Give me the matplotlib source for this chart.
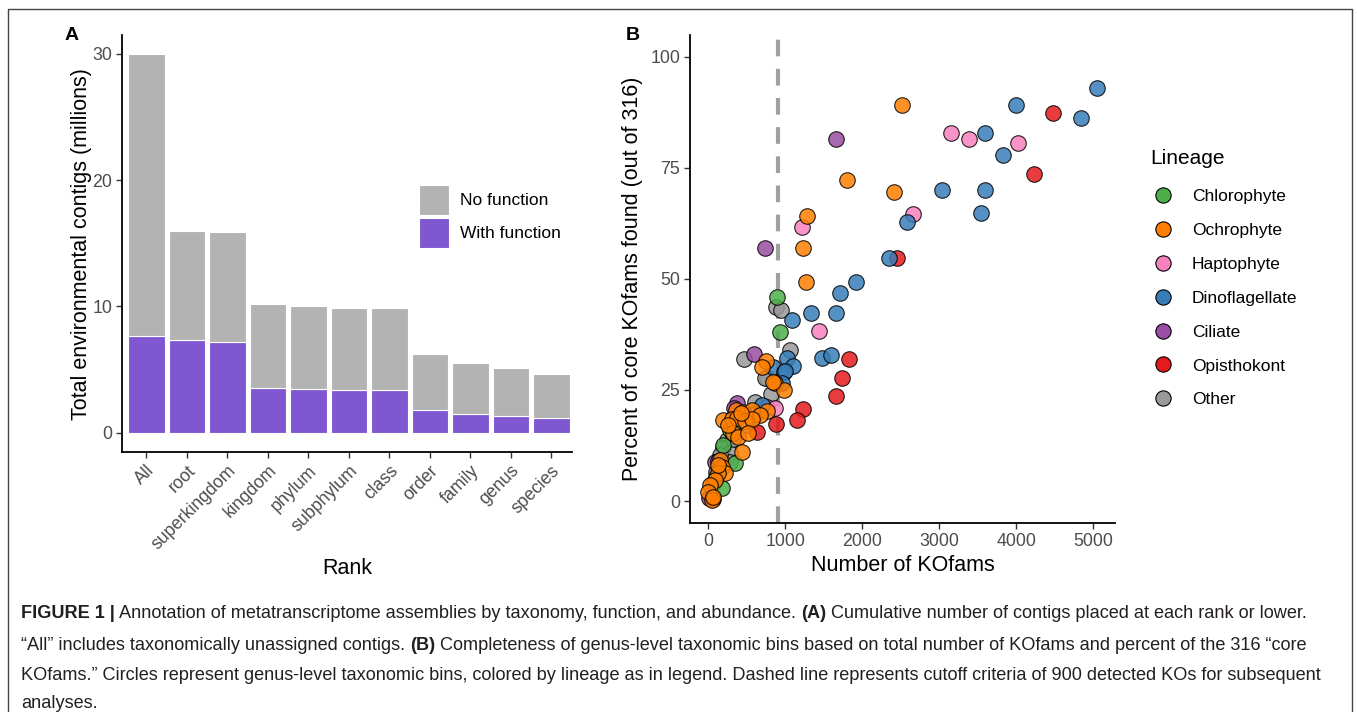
import matplotlib
matplotlib.use("Agg")
import matplotlib.pyplot as plt
from matplotlib.lines import Line2D
import numpy as np

plt.rcParams['font.family'] = ['Liberation Sans', 'DejaVu Sans']

# ---------------- Data: panel A ----------------
ranks = ["All", "root", "superkingdom", "kingdom", "phylum", "subphylum",
         "class", "order", "family", "genus", "species"]
total_contigs = [30.0, 16.0, 15.9, 10.17, 10.03, 9.9, 9.85, 6.26, 5.52, 5.15, 4.67]
with_function = [7.68, 7.31, 7.16, 3.54, 3.48, 3.40, 3.38, 1.77, 1.51, 1.35, 1.19]
no_function = [t - w for t, w in zip(total_contigs, with_function)]

# ---------------- Data: panel B ----------------
lineages = ["Chlorophyte", "Ochrophyte", "Haptophyte", "Dinoflagellate",
            "Ciliate", "Opisthokont", "Other"]
lineage_colors = ["#4DAF4A", "#FF7F00", "#F781BF", "#377EB8",
                  "#984EA3", "#E41A1C", "#999999"]

chloro_x = [892, 931, 195, 347, 174, 282, 100]
chloro_y = [46.0, 38.1, 12.6, 8.5, 2.9, 16.0, 5.5]

ochro_x = [2512, 1806, 2412, 1286, 1230, 1269, 745, 701, 866, 983, 844, 758, 360, 455,
           564, 671, 195, 304, 369, 477, 564, 325, 390, 519, 434, 152, 174, 217, 130,
           87, 22, 0, 44, 260, 420, 120, 60]
ochro_y = [89.2, 72.2, 69.6, 64.2, 56.9, 49.3, 31.5, 30.1, 26.6, 25.0, 26.8, 20.3, 20.5,
           20.1, 20.5, 19.4, 18.2, 18.4, 18.6, 18.1, 18.4, 15.2, 14.3, 15.2, 11.1, 9.2,
           7.7, 6.2, 6.2, 4.7, 3.6, 2.1, 0.2, 17.0, 19.8, 8.0, 1.0]

hapto_x = [3152, 3386, 4018, 2654, 1213, 1434, 758, 866, 600]
hapto_y = [82.9, 81.6, 80.7, 64.6, 61.7, 38.3, 21.2, 20.9, 19.5]

dino_x = [5044, 3996, 4844, 3590, 3832, 3035, 3590, 3537, 2585, 2342, 1918, 1710, 1338,
          1658, 1091, 1018, 1104, 1473, 1594, 844, 987, 996, 953, 700, 120]
dino_y = [93.0, 89.2, 86.3, 82.9, 77.9, 69.9, 69.9, 64.9, 62.9, 54.8, 49.3, 46.9, 42.4,
          42.4, 40.7, 32.3, 30.4, 32.3, 32.9, 30.1, 29.1, 29.3, 26.6, 21.5, 9.0]

cili_x = [1658, 740, 597, 377, 87, 10, 330]
cili_y = [81.6, 56.9, 33.2, 22.1, 8.8, 0.6, 21.0]

opis_x = [4481, 4234, 2455, 1831, 1740, 1655, 1234, 1148, 879, 628, 60]
opis_y = [87.3, 73.7, 54.8, 31.9, 27.8, 23.7, 20.6, 18.2, 17.3, 15.6, 0.5]

other_x = [879, 940, 464, 1061, 758, 736, 810, 606, 239, 195, 282, 282, 152, 57, 320, 100, 500]
other_y = [43.7, 43.0, 32.0, 34.0, 27.8, 27.8, 24.0, 22.3, 13.7, 11.9, 10.7, 8.8, 10.4,
           4.1, 14.0, 6.5, 17.0]

series_x = [chloro_x, ochro_x, hapto_x, dino_x, cili_x, opis_x, other_x]
series_y = [chloro_y, ochro_y, hapto_y, dino_y, cili_y, opis_y, other_y]
draw_order = [6, 0, 4, 2, 5, 3, 1]  # drawing order (orange on top)

cutoff = 900

# ---------------- Figure ----------------
W, H = 1357, 712
fig = plt.figure(figsize=(W / 100, H / 100), dpi=100)

def fx(px):
    return px / W

def fy(py):
    return 1 - py / H

tick_col = "#4D4D4D"
title_fs = 15.5
tick_fs = 12.8

# ---- Panel A ----
axA = fig.add_axes([fx(122), fy(452.3), fx(571.7 - 122), (452.3 - 35) / H])
xpos = np.arange(len(ranks))
axA.bar(xpos, with_function, width=0.9, color="#7E57D1", edgecolor="white", linewidth=0.8,
        label="With function")
axA.bar(xpos, no_function, bottom=with_function, width=0.9, color="#B3B3B3",
        edgecolor="white", linewidth=0.8, label="No function")
axA.set_xlim(-0.6, 10.5)
axA.set_ylim(-1.55, 31.5)
axA.set_yticks([0, 10, 20, 30])
axA.set_xticks(xpos)
axA.set_xticklabels(ranks, rotation=45, ha="right", rotation_mode="anchor")
axA.set_ylabel("Total environmental contigs (millions)", fontsize=title_fs, labelpad=0)
axA.set_xlabel("Rank", fontsize=title_fs, labelpad=4)
h, l = axA.get_legend_handles_labels()
legA = axA.legend(h[::-1], l[::-1], loc="upper left",
                  bbox_to_anchor=(fx(419), fy(185)), bbox_transform=fig.transFigure,
                  frameon=False, fontsize=12.5, handlelength=1.7, handleheight=2.25,
                  labelspacing=0.2, handletextpad=0.65, borderaxespad=0, borderpad=0)

# ---- Panel B ----
axB = fig.add_axes([fx(690), fy(523), fx(1115 - 690), (523 - 35) / H])
axB.axvline(cutoff, color="#A0A0A0", linewidth=3, dashes=(4, 3), zorder=1)
for i in draw_order:
    axB.scatter(series_x[i], series_y[i], s=125, c=lineage_colors[i], edgecolors="black",
                linewidths=0.8, alpha=0.85, zorder=2)
axB.set_xlim(-238, 5282)
axB.set_ylim(-4.95, 104.9)
axB.set_xticks([0, 1000, 2000, 3000, 4000, 5000])
axB.set_yticks([0, 25, 50, 75, 100])
axB.set_xlabel("Number of KOfams", fontsize=title_fs, labelpad=4)
axB.set_ylabel("Percent of core KOfams found (out of 316)", fontsize=title_fs, labelpad=5)
handles = [Line2D([], [], marker="o", linestyle="none", markersize=11,
                  markerfacecolor=c, markeredgecolor="black", markeredgewidth=0.8)
           for c in lineage_colors]
legB = axB.legend(handles, lineages, title="Lineage", loc="upper left",
                  bbox_to_anchor=(fx(1150), fy(149)), bbox_transform=fig.transFigure,
                  frameon=False, fontsize=12.5, title_fontsize=15, labelspacing=1.08,
                  handletextpad=0.9, borderpad=0, borderaxespad=0, handlelength=1.5)
legB._legend_box.align = "left"
legB._legend_box.sep = 15

for ax in (axA, axB):
    for s in ("top", "right"):
        ax.spines[s].set_visible(False)
    for s in ("left", "bottom"):
        ax.spines[s].set_linewidth(1.3)
        ax.spines[s].set_color("black")
    ax.tick_params(axis="both", colors="#333333", labelcolor=tick_col, labelsize=tick_fs,
                   length=4, width=1.0, pad=3)

fig.text(fx(72), fy(35), "A", fontsize=14, fontweight="bold", ha="center", va="center")
fig.text(fx(633), fy(35), "B", fontsize=14, fontweight="bold", ha="center", va="center")

# ---- outer frame ----
fig.add_artist(Line2D([fx(8), fx(8), fx(1352), fx(1352)], [0, fy(9), fy(9), 0],
                      transform=fig.transFigure, color="#444444", linewidth=1.0))

# ---- caption ----
cap_lines = [
    [("FIGURE 1 |", "bold"), (" Annotation of metatranscriptome assemblies by taxonomy, function, and abundance. ", "normal"),
     ("(A)", "bold"), (" Cumulative number of contigs placed at each rank or lower.", "normal")],
    [("\u201cAll\u201d includes taxonomically unassigned contigs. ", "normal"), ("(B)", "bold"),
     (" Completeness of genus-level taxonomic bins based on total number of KOfams and percent of the 316 \u201ccore", "normal")],
    [("KOfams.\u201d Circles represent genus-level taxonomic bins, colored by lineage as in legend. Dashed line represents cutoff criteria of 900 detected KOs for subsequent", "normal")],
    [("analyses.", "normal")],
]
cap_y = [614, 645, 675, 704]
cap_family = ["Liberation Sans", "DejaVu Sans"]
renderer = fig.canvas.get_renderer()
for runs, py in zip(cap_lines, cap_y):
    x = 21
    for txt, wgt in runs:
        t = fig.text(fx(x), fy(py), txt, fontsize=13.1, fontweight=wgt, color="#231F20",
                     ha="left", va="center", family=cap_family)
        bb = t.get_window_extent(renderer)
        x += bb.width

fig.savefig("out.png", dpi=100)
